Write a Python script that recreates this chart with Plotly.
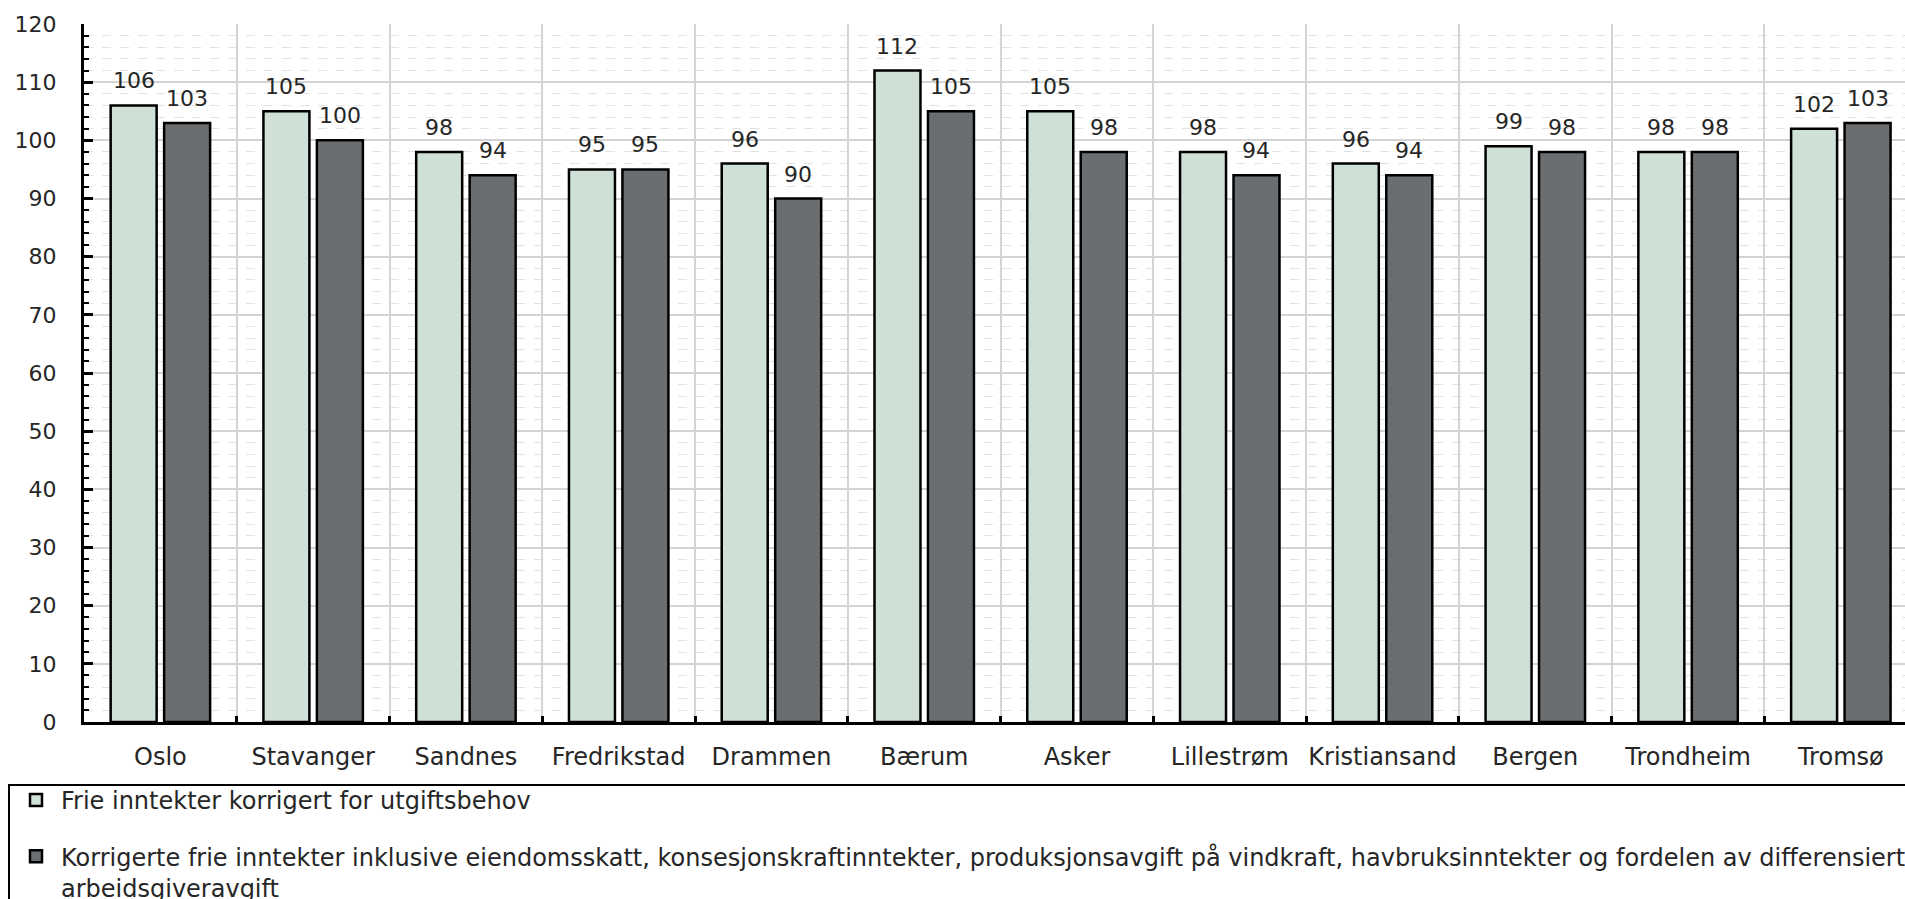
import plotly.graph_objects as go

categories = ["Oslo", "Stavanger", "Sandnes", "Fredrikstad", "Drammen", "Bærum",
              "Asker", "Lillestrøm", "Kristiansand", "Bergen", "Trondheim", "Tromsø"]
series1_name = "Frie inntekter korrigert for utgiftsbehov"
series1 = [106, 105, 98, 95, 96, 112, 105, 98, 96, 99, 98, 102]
series2_name = ("Korrigerte frie inntekter inklusive eiendomsskatt, konsesjonskraftinntekter, "
                "produksjonsavgift på vindkraft, havbruksinntekter og fordelen av differensiert"
                "<br>arbeidsgiveravgift")
series2 = [103, 100, 94, 95, 90, 105, 98, 94, 94, 98, 98, 103]
y_ticks = list(range(0, 121, 10))

FONT = "DejaVu Sans"
FS_NUM = 22
FS_TXT = 24
TXT = "#262626"
W, H = 1905, 899
ML, MR, MT, MB = 84, 0, 24, 177
plot_w, plot_h = W - ML - MR, H - MT - MB

fig = go.Figure()
fig.add_trace(go.Bar(
    x=categories, y=series1, name=series1_name, legendgroup="a",
    marker=dict(color="#cfe0d6", line=dict(color="black", width=2.5)),
    hoverinfo="skip"))
fig.add_trace(go.Bar(
    x=categories, y=series2, name=series2_name, legendgroup="b",
    marker=dict(color="#6b6e70", line=dict(color="black", width=2.5)),
    hoverinfo="skip"))

# value labels above bars
x_range = [-0.5, 11.42]
cat_px = plot_w / (x_range[1] - x_range[0])
bargap, bargroupgap = 0.30, 0.14
half_slot = cat_px * (1 - bargap) / 4
for vals, sign in ((series1, -1), (series2, 1)):
    for c, v in zip(categories, vals):
        fig.add_annotation(x=c, y=v, xref="x", yref="y", text=str(v), showarrow=False,
                           xshift=sign * half_slot, yshift=10, yanchor="bottom",
                           font=dict(family=FONT, size=FS_NUM, color=TXT))

# legend frame (runs off the right and bottom edges, as in the original)
fig.add_shape(type="rect", xref="paper", yref="paper",
              x0=(9 - ML) / plot_w, x1=1.2,
              y0=(MT + plot_h - 785) / plot_h, y1=-0.5,
              line=dict(color="black", width=2), fillcolor="rgba(0,0,0,0)", layer="above")

fig.update_layout(
    width=W, height=H,
    margin=dict(l=ML, r=MR, t=MT, b=MB, autoexpand=False),
    paper_bgcolor="white", plot_bgcolor="white",
    barmode="group", bargap=bargap, bargroupgap=bargroupgap,
    font=dict(family=FONT, size=FS_TXT, color=TXT),
    showlegend=True,
    legend=dict(
        xref="container", yref="container", x=11 / W, y=1 - 778 / H,
        xanchor="left", yanchor="top",
        borderwidth=0, bgcolor="rgba(0,0,0,0)",
        font=dict(family=FONT, size=FS_TXT, color=TXT),
        traceorder="grouped", tracegroupgap=22, valign="top", itemwidth=40,
    ),
    xaxis=dict(
        range=x_range, type="category",
        showline=True, linecolor="black", linewidth=3,
        ticks="inside", tickson="boundaries", ticklen=6, tickwidth=3, tickcolor="black",
        showgrid=True, gridcolor="#d4d4d4", gridwidth=1.5,
        ticklabelstandoff=11, tickangle=0,
        tickfont=dict(family=FONT, size=FS_TXT, color=TXT),
        fixedrange=True,
    ),
    yaxis=dict(
        range=[0, 120], tickvals=y_ticks,
        showline=True, linecolor="black", linewidth=3,
        ticks="inside", ticklen=9, tickwidth=3, tickcolor="black",
        showgrid=True, gridcolor="#d4d4d4", gridwidth=1.5,
        minor=dict(dtick=2, ticks="inside", ticklen=5, tickwidth=2, tickcolor="black",
                   showgrid=True, gridcolor="#e2e2e2", gridwidth=1, griddash="dash"),
        zeroline=False,
        ticklabelstandoff=20,
        tickfont=dict(family=FONT, size=FS_NUM, color=TXT),
        fixedrange=True,
    ),
)

fig.write_html("out.html", config={"displayModeBar": False},
               post_script="document.body.style.margin='0';document.body.style.overflow='hidden';")
